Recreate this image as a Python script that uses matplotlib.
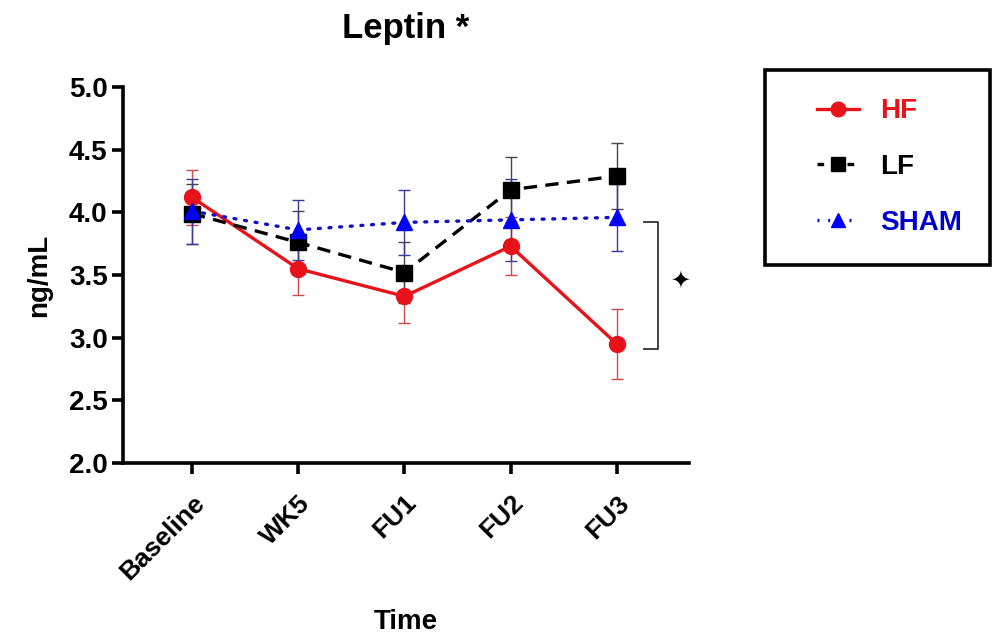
import matplotlib
matplotlib.use("Agg")
import matplotlib.pyplot as plt
from matplotlib.lines import Line2D
from matplotlib.patches import Rectangle
import numpy as np

plt.rcParams['font.family'] = ['Liberation Sans', 'DejaVu Sans']
plt.rcParams['font.weight'] = 'bold'

categories = ["Baseline", "WK5", "FU1", "FU2", "FU3"]
hf_mean = [4.12, 3.55, 3.33, 3.73, 2.95]
hf_err = [0.22, 0.21, 0.21, 0.23, 0.28]
lf_mean = [3.99, 3.76, 3.52, 4.18, 4.29]
lf_err = [0.24, 0.25, 0.24, 0.26, 0.26]
sham_mean = [4.01, 3.86, 3.92, 3.94, 3.96]
sham_err = [0.26, 0.24, 0.26, 0.33, 0.27]
yticks = [2.0, 2.5, 3.0, 3.5, 4.0, 4.5, 5.0]

fig = plt.figure(figsize=(9.92, 6.39), dpi=100)
ax = fig.add_axes([0.124, 0.2754, 0.5706, 0.5884])
x = np.arange(len(categories))

ax.errorbar(x, hf_mean, yerr=hf_err, fmt='none', ecolor='#d24a4a', elinewidth=1.0,
            capsize=4, capthick=1.0, zorder=2)
ax.errorbar(x, lf_mean, yerr=lf_err, fmt='none', ecolor='#444444', elinewidth=1.0,
            capsize=4, capthick=1.0, zorder=2)
ax.errorbar(x, sham_mean, yerr=sham_err, fmt='none', ecolor='#3a3a9a', elinewidth=1.0,
            capsize=4, capthick=1.0, zorder=2)

ax.plot(x, hf_mean, color='#e8131a', lw=2.4, marker='o', ms=11.5, zorder=3)
ax.plot(x, lf_mean, color='black', lw=2.4, ls=(0, (4, 2.5)), marker='s', ms=11, zorder=4)
ax.plot(x, sham_mean, color='#1010c8', lw=2.4, ls=(0, (0.6, 2.6)), dash_capstyle='round',
        marker='^', ms=11.5, markerfacecolor='#0000ff', markeredgecolor='#0000ff', zorder=5)

# significance bracket
ax.plot([4.254, 4.386, 4.386, 4.254], [3.923, 3.923, 2.91, 2.91], color='#333333', lw=1.3,
        clip_on=False)
ax.text(4.59, 3.46, '\u2726', ha='center', va='center', fontsize=17, color='black',
        family='DejaVu Sans')

ax.set_xlim(-0.65, 4.68)
ax.set_ylim(2.0, 5.0)
ax.set_yticks(yticks)
ax.set_yticklabels([f"{v:.1f}" for v in yticks])
ax.set_xticks(x)
ax.set_xticklabels(categories, rotation=45, ha='right', rotation_mode='anchor')

for s in ['top', 'right']:
    ax.spines[s].set_visible(False)
for s in ['left', 'bottom']:
    ax.spines[s].set_linewidth(2.6)
ax.tick_params(axis='both', width=2.6, length=8)
ax.tick_params(axis='y', labelsize=20, pad=3)
ax.tick_params(axis='x', labelsize=19, pad=12)

ax.set_ylabel('ng/mL', fontsize=20, fontweight='bold', labelpad=12)
ax.set_xlabel('Time', fontsize=20, fontweight='bold', labelpad=18)
ax.set_title('Leptin *', fontsize=25, fontweight='bold', pad=35)

# legend
fig.patches.append(Rectangle((0.771, 0.585), 0.227, 0.305, transform=fig.transFigure,
                             fill=False, lw=2.6, edgecolor='black'))
handles = [
    Line2D([], [], color='#e8131a', lw=2.4, marker='o', ms=10.5),
    Line2D([], [], color='black', lw=2.4, ls=(0, (2, 2.5)), marker='s', ms=10),
    Line2D([], [], color='#1010c8', lw=2.4, ls=(0, (0.6, 2.6)), marker='^', ms=10.5,
           markerfacecolor='#0000ff', markeredgecolor='#0000ff'),
]
leg = fig.legend(handles, ['HF', 'LF', 'SHAM'], loc='upper left',
                 bbox_to_anchor=(0.810, 0.868), frameon=False,
                 handlelength=1.5, handletextpad=0.75, labelspacing=1.07,
                 borderpad=0, prop={'weight': 'bold', 'size': 20})
for t, c in zip(leg.get_texts(), ['#e8131a', 'black', '#0000cc']):
    t.set_color(c)

fig.savefig('out.png', dpi=100)
